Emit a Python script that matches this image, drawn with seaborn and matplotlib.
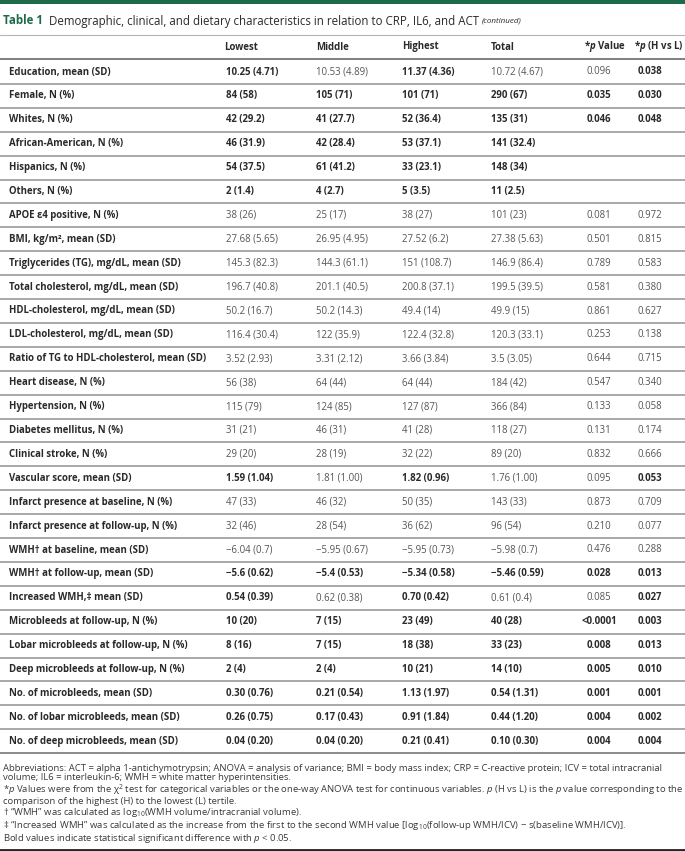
import numpy as np
import pandas as pd
import seaborn as sns
import matplotlib.pyplot as plt

# Table content
labels = [
    "Education, mean (SD)", "Female, N (%)", "Whites, N (%)", "African-American, N (%)",
    "Hispanics, N (%)", "Others, N (%)", "APOE ε4 positive, N (%)", "BMI, kg/m², mean (SD)",
    "Triglycerides (TG), mg/dL, mean (SD)", "Total cholesterol, mg/dL, mean (SD)",
    "HDL-cholesterol, mg/dL, mean (SD)", "LDL-cholesterol, mg/dL, mean (SD)",
    "Ratio of TG to HDL-cholesterol, mean (SD)", "Heart disease, N (%)", "Hypertension, N (%)",
    "Diabetes mellitus, N (%)", "Clinical stroke, N (%)", "Vascular score, mean (SD)",
    "Infarct presence at baseline, N (%)", "Infarct presence at follow-up, N (%)",
    "WMH† at baseline, mean (SD)", "WMH† at follow-up, mean (SD)", "Increased WMH,‡ mean (SD)",
    "Microbleeds at follow-up, N (%)", "Lobar microbleeds at follow-up, N (%)",
    "Deep microbleeds at follow-up, N (%)", "No. of microbleeds, mean (SD)",
    "No. of lobar microbleeds, mean (SD)", "No. of deep microbleeds, mean (SD)",
]
lowest = ["10.25 (4.71)", "84 (58)", "42 (29.2)", "46 (31.9)", "54 (37.5)", "2 (1.4)", "38 (26)",
          "27.68 (5.65)", "145.3 (82.3)", "196.7 (40.8)", "50.2 (16.7)", "116.4 (30.4)", "3.52 (2.93)",
          "56 (38)", "115 (79)", "31 (21)", "29 (20)", "1.59 (1.04)", "47 (33)", "32 (46)",
          "−6.04 (0.7)", "−5.6 (0.62)", "0.54 (0.39)", "10 (20)", "8 (16)", "2 (4)",
          "0.30 (0.76)", "0.26 (0.75)", "0.04 (0.20)"]
middle = ["10.53 (4.89)", "105 (71)", "41 (27.7)", "42 (28.4)", "61 (41.2)", "4 (2.7)", "25 (17)",
          "26.95 (4.95)", "144.3 (61.1)", "201.1 (40.5)", "50.2 (14.3)", "122 (35.9)", "3.31 (2.12)",
          "64 (44)", "124 (85)", "46 (31)", "28 (19)", "1.81 (1.00)", "46 (32)", "28 (54)",
          "−5.95 (0.67)", "−5.4 (0.53)", "0.62 (0.38)", "7 (15)", "7 (15)", "2 (4)",
          "0.21 (0.54)", "0.17 (0.43)", "0.04 (0.20)"]
highest = ["11.37 (4.36)", "101 (71)", "52 (36.4)", "53 (37.1)", "33 (23.1)", "5 (3.5)", "38 (27)",
           "27.52 (6.2)", "151 (108.7)", "200.8 (37.1)", "49.4 (14)", "122.4 (32.8)", "3.66 (3.84)",
           "64 (44)", "127 (87)", "41 (28)", "32 (22)", "1.82 (0.96)", "50 (35)", "36 (62)",
           "−5.95 (0.73)", "−5.34 (0.58)", "0.70 (0.42)", "23 (49)", "18 (38)", "10 (21)",
           "1.13 (1.97)", "0.91 (1.84)", "0.21 (0.41)"]
total = ["10.72 (4.67)", "290 (67)", "135 (31)", "141 (32.4)", "148 (34)", "11 (2.5)", "101 (23)",
         "27.38 (5.63)", "146.9 (86.4)", "199.5 (39.5)", "49.9 (15)", "120.3 (33.1)", "3.5 (3.05)",
         "184 (42)", "366 (84)", "118 (27)", "89 (20)", "1.76 (1.00)", "143 (33)", "96 (54)",
         "−5.98 (0.7)", "−5.46 (0.59)", "0.61 (0.4)", "40 (28)", "33 (23)", "14 (10)",
         "0.54 (1.31)", "0.44 (1.20)", "0.10 (0.30)"]
p_value = ["0.096", "0.035", "0.046", "", "", "", "0.081", "0.501", "0.789", "0.581", "0.861",
           "0.253", "0.644", "0.547", "0.133", "0.131", "0.832", "0.095", "0.873", "0.210",
           "0.476", "0.028", "0.085", "<0.0001", "0.008", "0.005", "0.001", "0.004", "0.004"]
p_hl = ["0.038", "0.030", "0.048", "", "", "", "0.972", "0.815", "0.583", "0.380", "0.627",
        "0.138", "0.715", "0.340", "0.058", "0.174", "0.666", "0.053", "0.709", "0.077",
        "0.288", "0.013", "0.027", "0.003", "0.013", "0.010", "0.001", "0.002", "0.004"]
# which value cells are bold (Lowest, Middle, Highest, Total, p, p H vs L)
bold_flags = ["101001", "111111", "111111", "111100", "111100", "111100", "000000", "000000",
              "000000", "000000", "000000", "000000", "000000", "000000", "000000", "000000",
              "000000", "101001", "000000", "000000", "000000", "111111", "101001", "111111",
              "111111", "111111", "111111", "111111", "111111"]
headers = ["Lowest", "Middle", "Highest", "Total", r"*$\mathbfit{p}$ Value", r"*$\mathbfit{p}$ (H vs L)"]

footnotes = [
    "Abbreviations: ACT = alpha 1-antichymotrypsin; ANOVA = analysis of variance; BMI = body mass index; CRP = C-reactive protein; ICV = total intracranial",
    "volume; IL6 = interleukin-6; WMH = white matter hyperintensities.",
    r"*$\mathit{p}$ Values were from the χ$^2$ test for categorical variables or the one-way ANOVA test for continuous variables. $\mathit{p}$ (H vs L) is the $\mathit{p}$ value corresponding to the",
    "comparison of the highest (H) to the lowest (L) tertile.",
    r"† “WMH” was calculated as log$_{10}$(WMH volume/intracranial volume).",
    r"‡ “Increased WMH” was calculated as the increase from the first to the second WMH value [log$_{10}$(follow-up WMH/ICV) − s(baseline WMH/ICV)].",
    r"Bold values indicate statistical significant difference with $\mathit{p}$ < 0.05.",
]

df = pd.DataFrame({"label": labels, "Lowest": lowest, "Middle": middle, "Highest": highest,
                   "Total": total, "p": p_value, "p_hl": p_hl, "bold": bold_flags})

sns.set_theme(style="white")
plt.rcParams["font.family"] = ["Open Sans", "DejaVu Sans"]
plt.rcParams["mathtext.fontset"] = "custom"
plt.rcParams["mathtext.rm"] = "Open Sans"
plt.rcParams["mathtext.it"] = "Open Sans:italic"
plt.rcParams["mathtext.bf"] = "Open Sans:bold"
plt.rcParams["mathtext.bfit"] = "Open Sans:italic:bold"

green = "#1d6b4b"
dark = "#2a2a2a"
light = "#555555"

fig = plt.figure(figsize=(6.85, 8.51), dpi=100)
ax = fig.add_axes([0, 0, 1, 1])
ax.set_xlim(0, 685)
ax.set_ylim(851, 0)
ax.axis("off")

# top bar and title
ax.axhspan(0, 3.5, color=green, lw=0)
ax.text(3, 21, "Table 1", color=green, fontsize=8.3, fontweight="bold", va="center")
title = ax.text(49, 21, "Demographic, clinical, and dietary characteristics in relation to CRP, IL6, and ACT",
                color=dark, fontsize=8.3, va="center")
fig.canvas.draw()
bb = title.get_window_extent().transformed(ax.transData.inverted())
ax.text(bb.x1 + 3, 21.5, "(continued)", color=dark, fontsize=5.8, style="italic", va="center")
ax.axhline(35, color="#b5b5b5", lw=0.8)

# header
col_x = [226, 316, 402, 491, 599, 638]
col_ha = ["left", "left", "left", "left", "center", "left"]
head_x = [224, 316, 402, 491, 584, 634]
body_fs = 6.9
for hx, h in zip(head_x, headers):
    ax.text(hx, 47, h, fontsize=body_fs, fontweight="bold", color=dark, va="center")
ax.axhline(59, color="#6a6a6a", lw=1.2)

# body rows
y0, step = 72, 23.9
cols = ["Lowest", "Middle", "Highest", "Total", "p", "p_hl"]
for i, row in df.iterrows():
    y = y0 + i * step
    ax.text(9, y, row["label"], fontsize=body_fs, fontweight="bold", color=dark, va="center")
    for j, c in enumerate(cols):
        b = row["bold"][j] == "1"
        ax.text(col_x[j], y, row[c], fontsize=body_fs, ha=col_ha[j], va="center",
                fontweight="bold" if b else "normal", color=dark if b else light)
    line_col = "#a8a8a8" if i < len(df) - 1 else "#8a8a8a"
    ax.axhline(y + step / 2, color=line_col, lw=1.4)

# footnotes as one block
ax.text(3, 764, "\n".join(footnotes), fontsize=6.8, color="#3a3a3a", va="top", ha="left",
        linespacing=1.0)

ax.axhline(849.5, color="#222222", lw=2)

fig.savefig("out.png", dpi=100)
